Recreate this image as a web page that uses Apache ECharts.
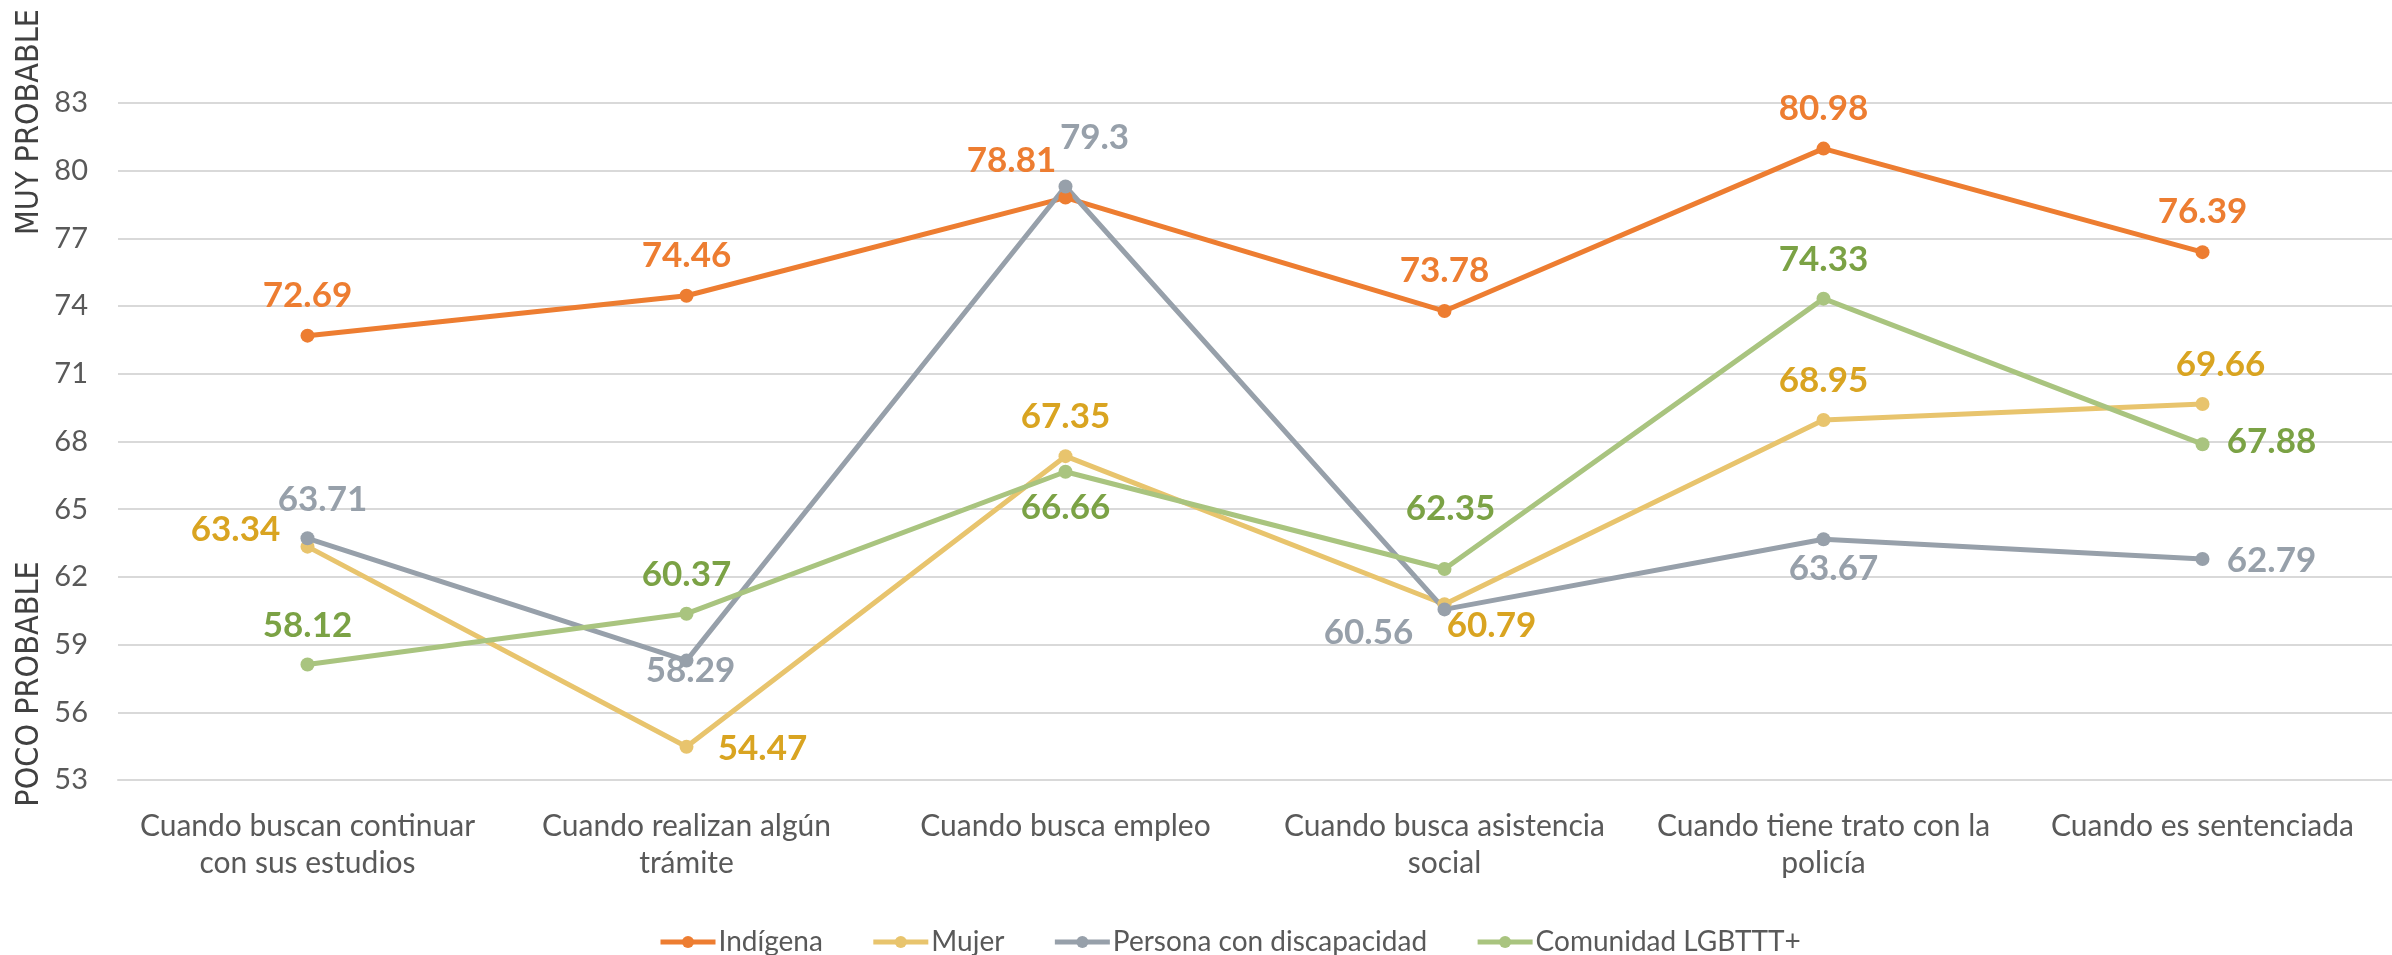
<!DOCTYPE html>
<html>
<head>
<meta charset="utf-8">
<script src="https://cdn.jsdelivr.net/npm/echarts@6/dist/echarts.min.js"></script>
<style>
  html, body { margin: 0; padding: 0; background: #ffffff; }
  #chart { width: 2392px; height: 955px; }
</style>
</head>
<body>
<div id="chart"></div>
<script>
// ---- data ----
const categories = [
  'Cuando buscan continuar\ncon sus estudios',
  'Cuando realizan algún\ntrámite',
  'Cuando busca empleo',
  'Cuando busca asistencia\nsocial',
  'Cuando tiene trato con la\npolicía',
  'Cuando es sentenciada'
];
const seriesNames = ['Indígena', 'Mujer', 'Persona con discapacidad', 'Comunidad LGBTTT+'];
const indigena = [72.69, 74.46, 78.81, 73.78, 80.98, 76.39];
const mujer = [63.34, 54.47, 67.35, 60.79, 68.95, 69.66];
const discapacidad = [63.71, 58.29, 79.3, 60.56, 63.67, 62.79];
const lgbttt = [58.12, 60.37, 66.66, 62.35, 74.33, 67.88];
const yTicks = [53, 56, 59, 62, 65, 68, 71, 74, 77, 80, 83];

// ---- styles (label offsets relative to each point) ----
const lineColors = ['#ED7D31', '#E8C46D', '#97A0AA', '#A9C47F'];
const labelColors = ['#ED7D31', '#D9A421', '#97A0AA', '#7BA245'];
const labelOffsets = [
  [[0, -40], [0, -40], [-54, -37], [0, -40], [0, -40], [0, -40]],
  [[-72, -17], [76, 2], [0, -39], [47, 22], [0, -39], [18, -39]],
  [[15, -39], [4, 10], [29, -49], [-76, 23], [10, 30], [69, 2]],
  [[0, -39], [0, -39], [0, 36], [6, -60], [0, -39], [69, -2]]
];
const seriesValues = [indigena, mujer, discapacidad, lgbttt];

const labelFont = 'Lato, "Open Sans", sans-serif';
const textFont = 'Lato, "Open Sans", sans-serif';
const narrowFont = '"Liberation Sans Narrow", "DejaVu Sans Condensed", "Roboto Condensed", Lato, sans-serif';

const chart = echarts.init(document.getElementById('chart'), null, { renderer: 'canvas' });

const series = seriesValues.map((vals, si) => ({
  name: seriesNames[si],
  type: 'line',
  data: vals.map((v, i) => ({
    value: v,
    label: { offset: labelOffsets[si][i] }
  })),
  symbol: 'circle',
  symbolSize: 14,
  showSymbol: true,
  lineStyle: { color: lineColors[si], width: 5 },
  itemStyle: { color: lineColors[si] },
  label: {
    show: true,
    position: 'inside',
    color: labelColors[si],
    fontFamily: labelFont,
    fontWeight: 'bold',
    fontSize: 35
  },
  emphasis: { disabled: true },
  animation: false
}));

chart.setOption({
  backgroundColor: '#ffffff',
  animation: false,
  grid: { left: 118, top: 103, bottom: 175, width: 2289, containLabel: false },
  legend: {
    data: seriesNames,
    left: 653,
    top: 923,
    itemWidth: 55,
    itemHeight: 15,
    itemGap: 48,
    lineStyle: { width: 5 },
    textStyle: { color: '#595959', fontFamily: textFont, fontSize: 28, padding: [0, 0, 0, -2] }
  },
  xAxis: {
    type: 'category',
    data: categories,
    boundaryGap: true,
    axisLine: { show: true, lineStyle: { color: '#d9d9d9', width: 2 } },
    axisTick: { show: false },
    splitLine: { show: false },
    axisLabel: {
      color: '#595959',
      fontFamily: textFont,
      fontSize: 30,
      lineHeight: 37,
      margin: 28,
      interval: 0
    }
  },
  yAxis: {
    type: 'value',
    min: yTicks[0],
    max: yTicks[yTicks.length - 1],
    interval: 3,
    axisLine: { show: false },
    axisTick: { show: false },
    splitLine: { lineStyle: { color: '#d9d9d9', width: 2 } },
    axisLabel: {
      color: '#595959',
      fontFamily: textFont,
      fontSize: 29,
      margin: 30
    }
  },
  graphic: [
    {
      type: 'text',
      x: 30, y: 122,
      rotation: Math.PI / 2,
      style: {
        text: 'MUY PROBABLE',
        fill: '#404040',
        font: '32px ' + narrowFont,
        align: 'center',
        verticalAlign: 'middle'
      }
    },
    {
      type: 'text',
      x: 30, y: 684,
      rotation: Math.PI / 2,
      style: {
        text: 'POCO PROBABLE',
        fill: '#404040',
        font: '32px ' + narrowFont,
        align: 'center',
        verticalAlign: 'middle'
      }
    }
  ],
  series: series
});
</script>
</body>
</html>
